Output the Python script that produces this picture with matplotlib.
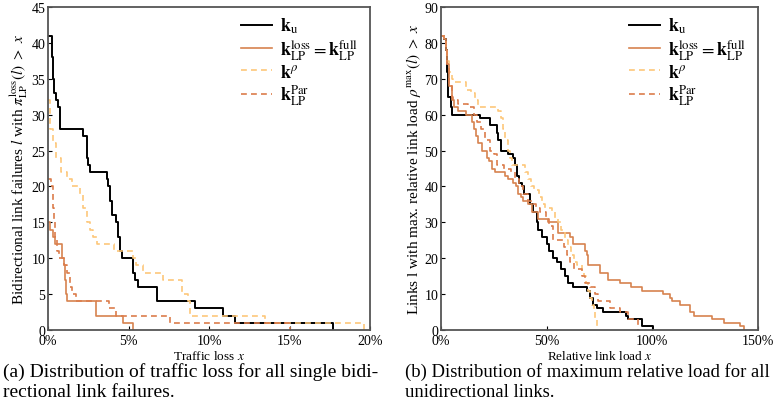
import matplotlib
matplotlib.use("Agg")
import matplotlib.pyplot as plt
from matplotlib.ticker import FuncFormatter

plt.rcParams['font.family'] = ['Liberation Serif', 'DejaVu Serif']
plt.rcParams['mathtext.fontset'] = 'stix'

# (a) traffic loss in %, number of failures with loss > x (step after x)
loss_ku_x = [0, 0.25, 0.3, 0.4, 0.5, 0.6, 0.75, 2.15, 2.45, 2.5, 2.6, 3.65, 3.75, 3.85, 4.0,
             4.2, 4.35, 4.5, 4.6, 5.3, 5.4, 5.6, 6.75, 9.1, 10.9, 11.6, 17.7]
loss_ku_y = [41, 38, 35, 33, 32, 31, 28, 27, 24, 23, 22, 21, 20, 18, 16,
             15, 13, 11, 10, 8, 7, 6, 4, 3, 2, 1, 0]

loss_lp_x = [0, 0.15, 0.3, 0.45, 0.85, 0.9, 1.0, 1.05, 1.1, 1.2, 3.0, 4.65, 5.25]
loss_lp_y = [15, 14, 13, 12, 11, 10, 9, 7, 5, 4, 2, 1, 0]

loss_rho_x = [0, 0.15, 0.3, 0.5, 0.8, 1.2, 1.5, 2.0, 2.2, 2.4, 2.6, 2.8, 3.05, 4.1, 5.3,
              5.45, 5.9, 7.15, 8.3, 8.7, 8.85, 13.5, 19.6]
loss_rho_y = [32, 28, 26, 24, 22, 21, 20, 19, 17, 15, 14, 13, 12, 11, 10,
              9, 8, 7, 5, 4, 2, 1, 0]

loss_par_x = [0, 0.2, 0.3, 0.35, 0.45, 0.55, 0.7, 1.0, 1.2, 1.35, 1.5, 1.75, 3.8, 4.25, 7.6, 15.0]
loss_par_y = [21, 20, 17, 15, 13, 11, 10, 9, 8, 6, 5, 4, 3, 2, 1, 0]

# (b) relative link load in %, number of links with load > x
load_ku_x = [0, 1.5, 2.5, 3, 3.5, 4.5, 5, 18.5, 23.2, 26.3, 27, 28.5, 31.9, 34.2, 35, 35.8,
             37, 38.2, 39.3, 42.1, 43.6, 45.3, 46, 47.6, 50, 51.2, 53.1, 54.7, 57, 58.5,
             60.3, 62.6, 69, 70.5, 72, 74, 76.8, 87.5, 88.6, 95, 100.5]
load_ku_y = [82, 81, 78, 72, 65, 62, 60, 59, 57, 55, 53, 50, 49, 48, 46, 43,
             41, 40, 38, 35, 33, 30, 28, 26, 24, 22, 20, 19, 17, 15,
             13, 12, 11, 9, 7, 6, 5, 4, 3, 1, 0]

load_lp_x = [0, 1.5, 2.5, 3, 4, 5, 6, 8, 12, 14.5, 15.5, 16.6, 17.7, 19.2, 21.6, 22.5, 24,
             25.5, 30.3, 31.9, 34, 35.5, 36.5, 38, 39, 41, 43, 46, 50.8, 55.5, 61, 62.5,
             68.1, 69, 69.7, 75.2, 79.2, 84.5, 90, 95, 105, 108.4, 109.2, 113, 118, 119.5,
             128, 134, 141.5, 143.5]
load_lp_y = [82, 81, 78, 74, 68, 64, 62, 61, 60, 58, 56, 54, 52, 50, 48, 47, 45,
             44, 43, 42, 41, 40, 38, 37, 36, 35, 33, 31, 30, 27, 26, 24,
             22, 21, 18, 16, 14, 13, 12, 11, 10, 9, 8, 7, 5, 4,
             3, 2, 1, 0]

load_rho_x = [0, 1.5, 2.5, 3, 4, 5, 5.8, 12, 14, 16, 17.6, 27, 28.5, 29.5, 30.5, 31.5, 32.5,
              33.5, 39.7, 41, 42.5, 44, 46.5, 48, 49.2, 52.5, 54, 55.5, 57, 58.5, 60, 61.5,
              63, 64.5, 66.5, 67.5, 68.5, 69.5, 70.5, 71.5, 72.5, 73, 73.7]
load_rho_y = [82, 81, 78, 75, 72, 70, 69, 67, 66, 64, 62, 61, 59, 56, 53, 50, 48,
              46, 44, 42, 40, 39, 37, 35, 34, 33, 31, 30, 28, 25, 23, 21,
              19, 18, 16, 15, 13, 11, 9, 7, 5, 3, 0]

load_par_x = [0, 1.5, 2.5, 3, 4, 5, 5.8, 8.2, 13, 15.5, 17, 19, 21, 23, 25, 26.3, 30, 33,
              35, 37, 39, 41, 43, 45, 46.8, 49.5, 51, 53, 58, 59.5, 61, 63, 66.6, 68,
              70.5, 73, 74.5, 80, 84.5, 88.6, 93]
load_par_y = [82, 81, 78, 74, 68, 65, 64, 63, 62, 60, 58, 56, 53, 50, 49, 46, 45, 44,
              42, 40, 38, 36, 35, 34, 33, 31, 29, 25, 23, 21, 19, 17, 15, 13,
              12, 10, 8, 6, 5, 3, 0]

labels = [r'$\mathbf{k}_{\mathrm{u}}$',
          r'$\mathbf{k}_{\mathrm{LP}}^{\mathrm{loss}}=\mathbf{k}_{\mathrm{LP}}^{\mathrm{full}}$',
          r'$\mathbf{k}^{\rho}$',
          r'$\mathbf{k}_{\mathrm{LP}}^{\mathrm{Par}}$']

c_black = 'black'
c_lp = '#d7834f'
c_rho = '#fdc77a'
c_par = '#dc7d4c'
dash = (0, (3.5, 2.5))

fig = plt.figure(figsize=(7.74, 4.10), dpi=100)
ax1 = fig.add_axes([48 / 774, 79 / 410, 322 / 774, 323 / 410])
ax2 = fig.add_axes([441 / 774, 79 / 410, 317 / 774, 323 / 410])

def draw(ax, series):
    for (xs, ys), color, ls, lw, lab in zip(series, [c_black, c_lp, c_rho, c_par],
                                            ['-', '-', dash, dash], [1.4, 1.2, 1.2, 1.2], labels):
        ax.step(xs, ys, where='post', color=color, linestyle=ls, lw=lw, label=lab)
    for s in ax.spines.values():
        s.set_color('#555555')
        s.set_linewidth(1.3)
    ax.tick_params(direction='in', length=3, width=0.8, labelsize=10, top=False, right=False)
    ax.tick_params(axis='x', pad=3)
    ax.tick_params(axis='y', pad=2)
    ax.xaxis.set_major_formatter(FuncFormatter(lambda v, p: '%d%%' % v))
    ax.legend(loc='upper right', frameon=False, fontsize=13, handlelength=1.7,
              labelspacing=0.1, handletextpad=0.45, borderaxespad=0.0,
              bbox_to_anchor=(0.985, 0.995))

draw(ax1, [(loss_ku_x, loss_ku_y), (loss_lp_x, loss_lp_y),
           (loss_rho_x, loss_rho_y), (loss_par_x, loss_par_y)])
ax1.set_xlim(0, 20)
ax1.set_ylim(0, 45)
ax1.set_xticks([0, 5, 10, 15, 20])
ax1.set_yticks(range(0, 46, 5))
ax1.set_xlabel(r'Traffic loss $x$', fontsize=9.5, labelpad=1)
ax1.set_ylabel(r'Bidirectional link failures $l$ with $\pi_{\mathrm{LP}}^{\mathrm{loss}}(l)\ >\ x$',
               fontsize=11, labelpad=1)

draw(ax2, [(load_ku_x, load_ku_y), (load_lp_x, load_lp_y),
           (load_rho_x, load_rho_y), (load_par_x, load_par_y)])
ax2.set_xlim(0, 150)
ax2.set_ylim(0, 90)
ax2.set_xticks([0, 50, 100, 150])
ax2.set_yticks(range(0, 91, 10))
ax2.set_xlabel(r'Relative link load $x$', fontsize=9.5, labelpad=1)
ax2.set_ylabel(r'Links l with max. relative link load $\rho^{\mathrm{max}}(l)\ >\ x$',
               fontsize=11, labelpad=1)

fig.text(3 / 774, 1 - 372 / 410, '(a) Distribution of traffic loss for all single bidi-',
         fontsize=14, va='center')
fig.text(3 / 774, 1 - 393 / 410, 'rectional link failures.', fontsize=14, va='center')
fig.text(405 / 774, 1 - 372 / 410, '(b) Distribution of maximum relative load for all',
         fontsize=13.4, va='center')
fig.text(405 / 774, 1 - 393 / 410, 'unidirectional links.', fontsize=13.4, va='center')

fig.savefig('out.png', dpi=100)
